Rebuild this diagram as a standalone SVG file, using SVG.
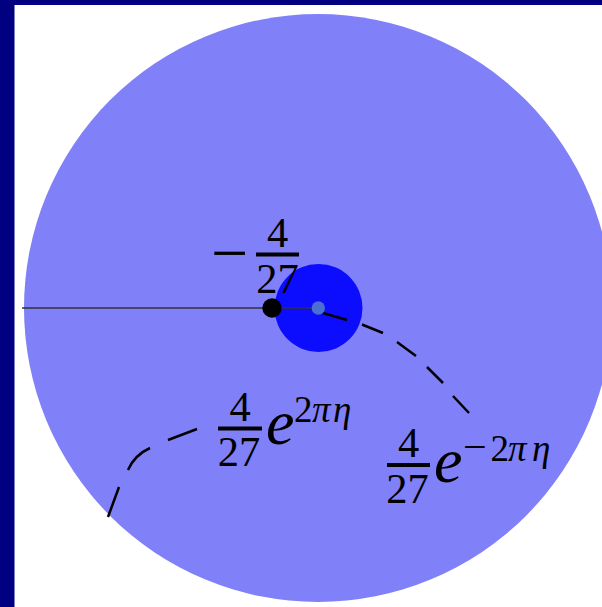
<svg xmlns="http://www.w3.org/2000/svg" width="602" height="607" viewBox="0 0 602 607">
<style>
.num{font-family:"Liberation Serif","Times New Roman",serif;font-size:42.5px;fill:#000;text-anchor:middle}
.big{font-family:"Liberation Serif","Times New Roman",serif;font-size:64px;fill:#000}
.sup{font-family:"Liberation Serif","Times New Roman",serif;font-size:37px;fill:#000}
.it{font-style:italic}
.bar{stroke:#000;stroke-width:4}
.dash{fill:none;stroke:#000;stroke-width:2.5;stroke-linecap:butt}
</style>
<rect x="0" y="0" width="602" height="607" fill="#ffffff"/>
<g id="frame">
<rect x="0" y="0" width="14.5" height="607" fill="#000080"/>
<rect x="0" y="0" width="602" height="5" fill="#000080"/>
</g>
<g id="outer-disk"><circle cx="318" cy="308" r="294" fill="#8080f8"/></g>
<g id="inner-disk"><circle cx="318.5" cy="308" r="44" fill="#0c0cff"/></g>
<g id="axis"><line x1="22" y1="308" x2="318" y2="308" stroke="#333333" stroke-width="1.3"/></g>
<g id="connectors">
<path class="dash" d="M323,313L347,320M362,324.5L383,333M397,342L416,356M427,367L443,383M453,396L469,413"/>
<path class="dash" d="M197,429L168,440M150,448Q134.5,455 128,470M119,487L108,517"/>
</g>
<g id="point-minus"><circle cx="272" cy="308" r="9.7" fill="#000"/></g>
<g id="origin"><circle cx="318.3" cy="308" r="6.7" fill="#4a6fcf"/></g>
<g id="label-minus-4-27">
<text class="big" x="211" y="275" style="font-size:66px">−</text>
<text class="num" x="277.5" y="246.5">4</text>
<line class="bar" x1="256" y1="254.5" x2="299" y2="254.5"/>
<text class="num" x="277.5" y="292.5">27</text>
</g>
<g id="label-plus">
<text class="num" x="240" y="420.5">4</text>
<line class="bar" x1="218" y1="428.5" x2="262" y2="428.5"/>
<text class="num" x="239" y="466">27</text>
<text class="big it" x="266" y="444">e</text>
<text class="sup"><tspan x="294" y="422">2</tspan><tspan class="it" x="312" y="422">π</tspan><tspan class="it" x="333" y="422">η</tspan></text>
</g>
<g id="label-minus">
<text class="num" x="408.5" y="457">4</text>
<line class="bar" x1="387" y1="465" x2="430" y2="465"/>
<text class="num" x="407.5" y="502.5">27</text>
<text class="big it" x="434" y="482">e</text>
<text class="sup"><tspan x="463" y="461" style="font-size:42px">−</tspan><tspan x="490.5" y="461">2</tspan><tspan class="it" x="508" y="461">π</tspan><tspan class="it" x="532" y="461">η</tspan></text>
</g>
</svg>
